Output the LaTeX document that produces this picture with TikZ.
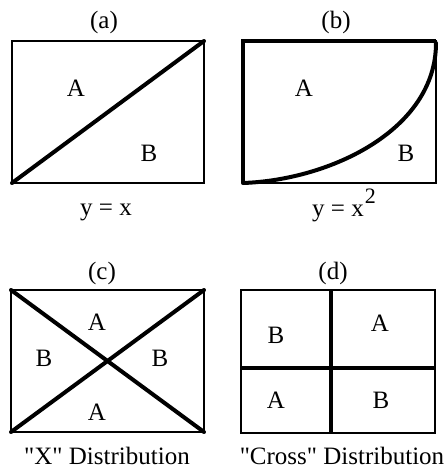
\documentclass[tikz,border=0pt]{standalone}
\usepackage{fontspec}
\setmainfont{Liberation Serif}
\begin{document}
\begin{tikzpicture}[x=1pt,y=-1pt,
  thinline/.style={line width=1.8pt},
  boldline/.style={line width=4pt},
  midline/.style={line width=2.6pt},
  lbl/.style={font=\fontsize{25}{30}\selectfont, inner sep=0pt},
  captext/.style={lbl, anchor=base}]
\useasboundingbox (0,0) rectangle (447,475);
% ---------- panel (a)
\coordinate (aTL) at (12,41);
\coordinate (aBR) at (204,183);
\coordinate (aBL) at (12,183);
\coordinate (aTR) at (204,41);
\draw[thinline] (aTL) rectangle (aBR);
\draw[boldline, line cap=round] (aBL) -- (aTR);
\node[lbl] (alab) at (104,22) {(a)};
\node[lbl] (aA) at (76,88) {A};
\node[lbl] (aB) at (149,153) {B};
\node[captext] (aeq) at (106,215) {y = x};
% ---------- panel (b)
\coordinate (bTL) at (243,41);
\coordinate (bBR) at (436,183);
\coordinate (bBL) at (243,183);
\coordinate (bTR) at (436,41);
\draw[thinline] (bTL) rectangle (bBR);
\draw[boldline] (bTR) -- (bTL) -- (bBL);
\draw[midline] (bBL) -- (bBR);
\draw[boldline, line cap=round] (bBL) .. controls (330,180) and (436,130) .. (436,43);
\node[lbl] (blab) at (336,22) {(b)};
\node[lbl] (bA) at (304,88) {A};
\node[lbl] (bB) at (406,153) {B};
\node[captext] (beq) at (344,216) {y = x\kern1pt\raisebox{13pt}{\fontsize{22}{26}\selectfont 2}};
% ---------- panel (c)
\coordinate (cTL) at (11,290);
\coordinate (cBR) at (204,432);
\coordinate (cBL) at (11,432);
\coordinate (cTR) at (204,290);
\draw[thinline] (cTL) rectangle (cBR);
\draw[boldline, line cap=round] (cTL) -- (cBR);
\draw[boldline, line cap=round] (cBL) -- (cTR);
\node[lbl] (clab) at (102,273) {(c)};
\node[lbl] (cA1) at (97,322) {A};
\node[lbl] (cB1) at (44,358) {B};
\node[lbl] (cB2) at (160,358) {B};
\node[lbl] (cA2) at (97,412) {A};
\node[captext] (ceq) at (107,464) {\textquotedbl X\textquotedbl{} Distribution};
% ---------- panel (d)
\coordinate (dTL) at (241,290);
\coordinate (dBR) at (435,433);
\coordinate (dT) at (331,290);
\coordinate (dB) at (331,433);
\coordinate (dL) at (241,368);
\coordinate (dR) at (435,368);
\draw[thinline] (dTL) rectangle (dBR);
\draw[boldline] (dT) -- (dB);
\draw[boldline] (dL) -- (dR);
\node[lbl] (dlab) at (333,273) {(d)};
\node[lbl] (dB1) at (276,335) {B};
\node[lbl] (dA1) at (380,323) {A};
\node[lbl] (dA2) at (276,400) {A};
\node[lbl] (dB2) at (381,400) {B};
\node[captext] (deq) at (342,464) {\textquotedbl Cross\textquotedbl{} Distribution};
\end{tikzpicture}
\end{document}
